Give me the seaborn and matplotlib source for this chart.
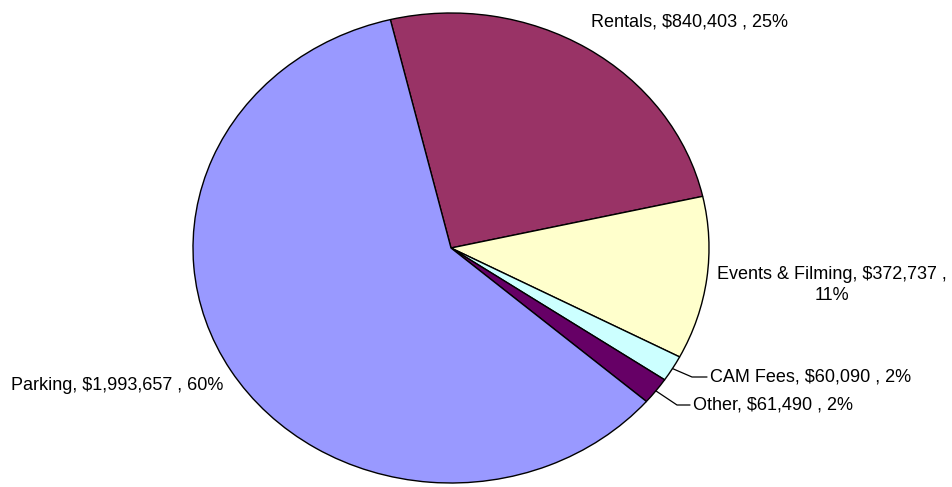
import numpy as np
import matplotlib
matplotlib.use("Agg")
import matplotlib.pyplot as plt
import seaborn as sns

categories = ["Rentals", "Events & Filming", "CAM Fees", "Other", "Parking"]
values = [840403, 372737, 60090, 61490, 1993657]
percent_labels = ["25%", "11%", "2%", "2%", "60%"]
colors = ["#993366", "#FFFFCC", "#CCFFFF", "#660066", "#9999FF"]

sns.set_theme(style="white")
plt.rcParams['font.family'] = ['Liberation Sans', 'DejaVu Sans']

W, H = 953, 487
fig = plt.figure(figsize=(W / 100, H / 100), dpi=100)
ax = fig.add_axes([0, 0, 1, 1])

start = 103.6
wedges, _ = ax.pie(values, colors=colors, startangle=start, counterclock=False,
                   wedgeprops=dict(edgecolor="black", linewidth=1.0))
ax.set_aspect('auto')

# pixel geometry of the ellipse
cx, cy, rx, ry = 451, 248, 258, 235
ax.set_xlim(-cx / rx, (W - cx) / rx)
ax.set_ylim((cy - H) / ry, cy / ry)
ax.axis('off')

def px(x, y):
    return (x - cx) / rx, (cy - y) / ry

def fmt(i):
    return f"{categories[i]}, ${values[i]:,} , {percent_labels[i]}"

fs = 13
# Rentals
x, y = px(690, 22)
ax.text(x, y, fmt(0), ha='center', va='center', fontsize=fs, color='black')
# Events
x, y = px(832, 285)
ax.text(x, y, f"{categories[1]}, ${values[1]:,} ,\n{percent_labels[1]}",
        ha='center', va='center', fontsize=fs, color='black', linespacing=1.35)
# Parking
x, y = px(117, 386)
ax.text(x, y, fmt(4), ha='center', va='center', fontsize=fs, color='black')

# leader-lined labels
for i, (ex, ey, hx, tx) in {2: (692, 377, 707, 710), 3: (677, 405, 690, 693)}.items():
    w = wedges[i]
    mid = np.deg2rad((w.theta1 + w.theta2) / 2)
    p0 = (np.cos(mid), np.sin(mid))
    e = px(ex, ey)
    h = px(hx, ey)
    ax.plot([p0[0], e[0], h[0]], [p0[1], e[1], h[1]], color='black', lw=0.9)
    t = px(tx, ey)
    ax.text(t[0], t[1], fmt(i), ha='left', va='center', fontsize=fs, color='black')

fig.savefig("out.png", dpi=100, facecolor="white")
